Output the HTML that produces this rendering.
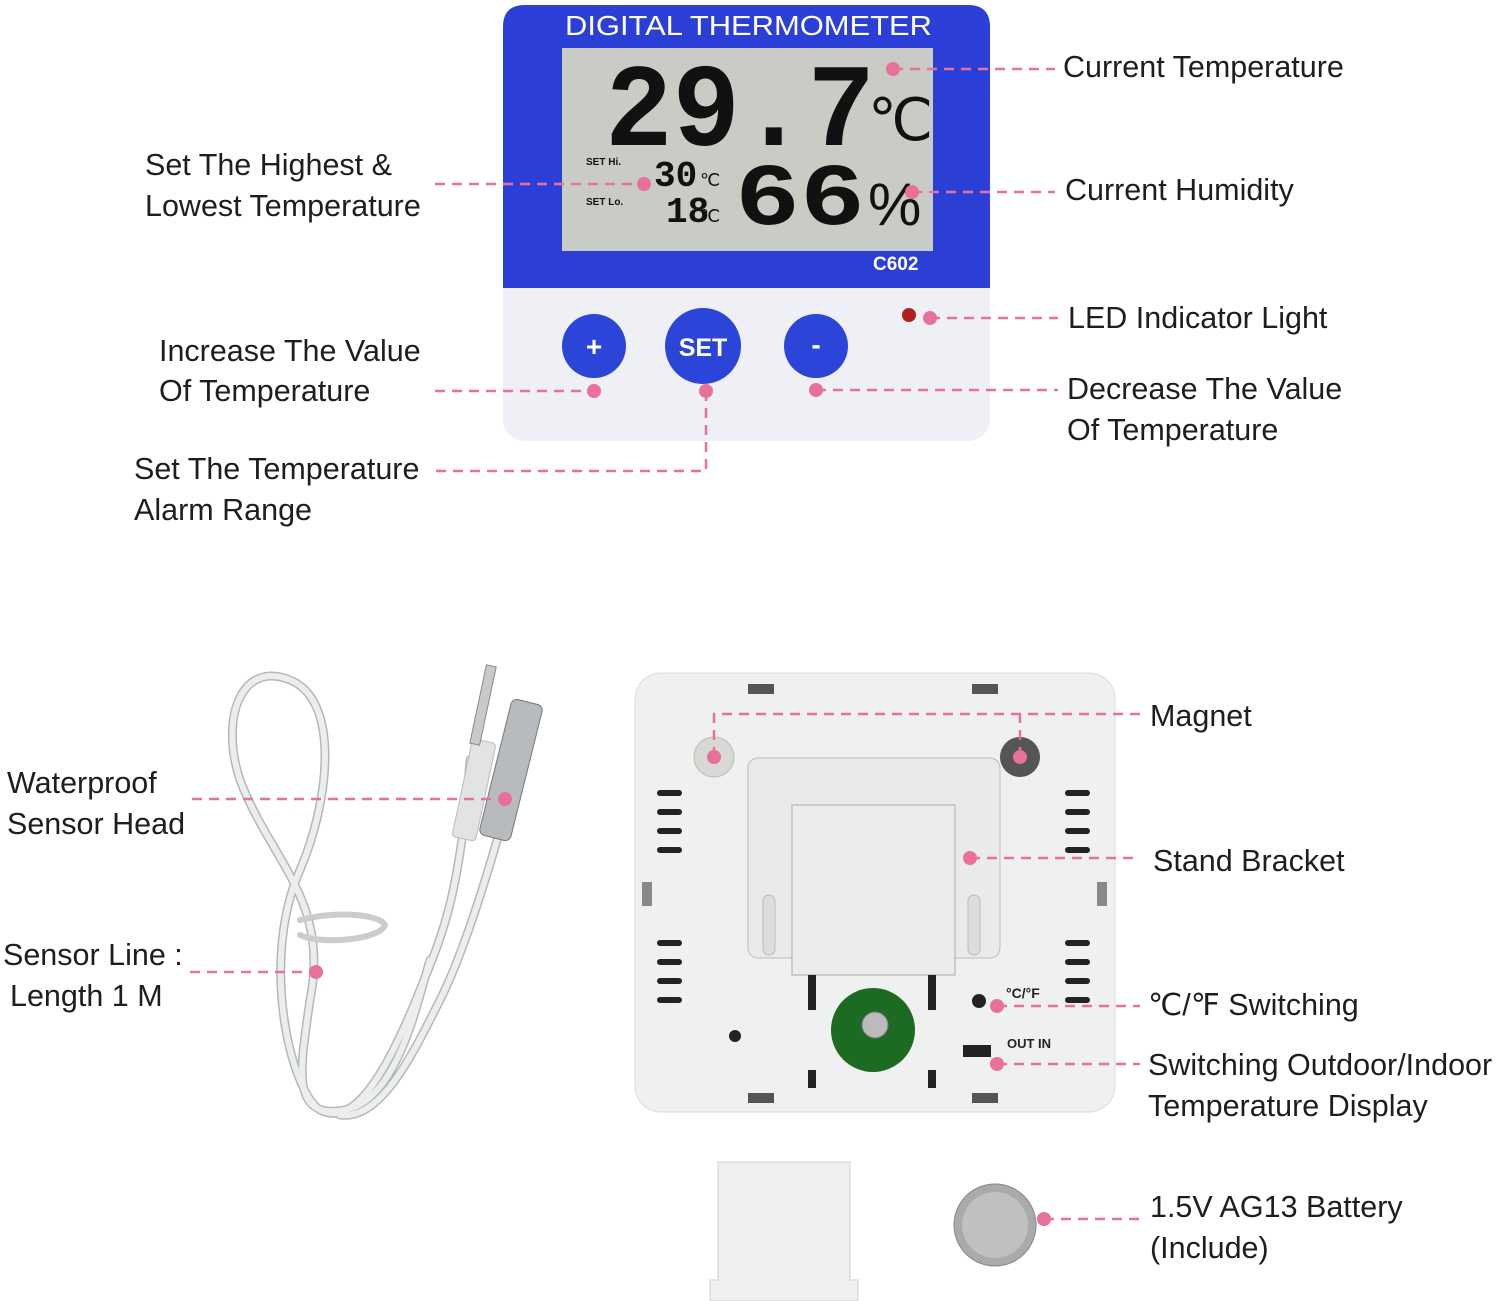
<!DOCTYPE html>
<html><head><meta charset="utf-8"><style>
html,body{margin:0;padding:0;background:#fff}
svg{display:block}
.l{font-family:"Liberation Sans",sans-serif;font-size:30.5px;fill:#1e1e1e}
.d{stroke:#e8709a;stroke-width:2.5;stroke-dasharray:10 7;fill:none}
.p{fill:#e8709a}
.v{fill:#222}
</style></head><body>
<svg width="1499" height="1301" viewBox="0 0 1499 1301" xmlns="http://www.w3.org/2000/svg">
<rect x="503" y="5" width="487" height="436" rx="22" fill="#eef0f6"/>
<path d="M525 5 H968 Q990 5 990 27 V288 H503 V27 Q503 5 525 5Z" fill="#2b3fd6"/>
<text x="565" y="35" font-family="Liberation Sans,sans-serif" font-size="28" fill="#fff" textLength="367" lengthAdjust="spacingAndGlyphs">DIGITAL  THERMOMETER</text>
<rect x="562" y="48" width="371" height="203" fill="#c8ccc4"/>
<text x="605" y="145" font-family="Liberation Mono,monospace" font-weight="bold" font-size="118" fill="#111" textLength="270" lengthAdjust="spacingAndGlyphs">29.7</text>
<text x="868" y="140" font-family="Liberation Sans,sans-serif" font-size="58" fill="#111">℃</text>
<text x="586" y="165" font-family="Liberation Sans,sans-serif" font-weight="bold" font-size="10" fill="#111">SET Hi.</text>
<text x="586" y="205" font-family="Liberation Sans,sans-serif" font-weight="bold" font-size="10" fill="#111">SET Lo.</text>
<text x="654" y="186" font-family="Liberation Mono,monospace" font-weight="bold" font-size="36" fill="#111">30</text>
<text x="700" y="186" font-family="Liberation Sans,sans-serif" font-size="18" fill="#111">℃</text>
<text x="666" y="222" font-family="Liberation Mono,monospace" font-weight="bold" font-size="36" fill="#111">18</text>
<text x="700" y="222" font-family="Liberation Sans,sans-serif" font-size="18" fill="#111">℃</text>
<text x="735" y="224" font-family="Liberation Mono,monospace" font-weight="bold" font-size="88" fill="#111" textLength="130" lengthAdjust="spacingAndGlyphs">66</text>
<text x="868" y="225" font-family="Liberation Sans,sans-serif" font-size="60" fill="#111">%</text>
<text x="873" y="270" font-family="Liberation Sans,sans-serif" font-weight="bold" font-size="19" fill="#fff">C602</text>
<circle cx="594" cy="346" r="32" fill="#2b45d8"/>
<text x="594" y="356" text-anchor="middle" font-family="Liberation Sans,sans-serif" font-weight="bold" font-size="28" fill="#fff">+</text>
<circle cx="703" cy="346" r="38" fill="#2b45d8"/>
<text x="703" y="356" text-anchor="middle" font-family="Liberation Sans,sans-serif" font-weight="bold" font-size="25" fill="#fff">SET</text>
<circle cx="816" cy="346" r="32" fill="#2b45d8"/>
<text x="816" y="354" text-anchor="middle" font-family="Liberation Sans,sans-serif" font-weight="bold" font-size="28" fill="#fff">-</text>
<circle cx="909" cy="315" r="7" fill="#b0201a"/>
<path class="d" d="M893 69 H1055"/><circle class="p" cx="893" cy="69" r="7"/>
<text class="l" x="1063" y="77">Current Temperature</text>
<path class="d" d="M912 192 H1055"/><circle class="p" cx="912" cy="192" r="7"/>
<text class="l" x="1065" y="200">Current Humidity</text>
<path class="d" d="M930 318 H1058"/><circle class="p" cx="930" cy="318" r="7"/>
<text class="l" x="1068" y="328">LED Indicator Light</text>
<path class="d" d="M816 390 H1058"/><circle class="p" cx="816" cy="390" r="7"/>
<text class="l" x="1067" y="399">Decrease The Value</text>
<text class="l" x="1067" y="440">Of Temperature</text>
<path class="d" d="M435 184 H644"/><circle class="p" cx="644" cy="184" r="7"/>
<text class="l" x="145" y="175">Set The Highest &amp;</text>
<text class="l" x="145" y="216">Lowest Temperature</text>
<path class="d" d="M435 391 H594"/><circle class="p" cx="594" cy="391" r="7"/>
<text class="l" x="159" y="361">Increase The Value</text>
<text class="l" x="159" y="401">Of Temperature</text>
<path class="d" d="M436 471 H706 V391"/><circle class="p" cx="706" cy="391" r="7"/>
<text class="l" x="134" y="479">Set The Temperature</text>
<text class="l" x="134" y="520">Alarm Range</text>
<!-- cable -->
<g fill="none" stroke-linecap="round">
<g stroke="#b5b8b8" stroke-width="9">
<path d="M470 760 C 460 900 440 940 420 990 C 380 1090 350 1125 320 1110 C 290 1090 260 960 300 870 C 330 800 340 700 290 680 C 240 660 220 720 240 780 C 270 860 330 900 310 1000 C 300 1070 290 1120 345 1110 C 400 1100 420 990 430 960"/>
<path d="M500 830 C 480 900 460 960 440 1000 C 410 1060 380 1120 340 1115"/>
</g>
<g stroke="#eceeee" stroke-width="6">
<path d="M470 760 C 460 900 440 940 420 990 C 380 1090 350 1125 320 1110 C 290 1090 260 960 300 870 C 330 800 340 700 290 680 C 240 660 220 720 240 780 C 270 860 330 900 310 1000 C 300 1070 290 1120 345 1110 C 400 1100 420 990 430 960"/>
<path d="M500 830 C 480 900 460 960 440 1000 C 410 1060 380 1120 340 1115"/>
</g>
<path d="M300 920 C 340 910 380 915 385 925 C 380 940 320 945 300 935" stroke="#ccc" stroke-width="6"/>
</g>
<rect x="462" y="740" width="24" height="100" rx="4" fill="#e2e4e4" stroke="#bbb" transform="rotate(12 474 790)"/>
<rect x="478" y="665" width="10" height="80" fill="#c9c9c9" stroke="#888" transform="rotate(12 483 705)"/>
<rect x="495" y="700" width="32" height="140" rx="6" fill="#b8bbbd" stroke="#777" transform="rotate(14 511 770)"/>
<path class="d" d="M192 799 H505"/><circle class="p" cx="505" cy="799" r="7"/>
<text class="l" x="7" y="793">Waterproof</text>
<text class="l" x="7" y="834">Sensor Head</text>
<path class="d" d="M190 972 H316"/><circle class="p" cx="316" cy="972" r="7"/>
<text class="l" x="3" y="965">Sensor Line :</text>
<text class="l" x="10" y="1006">Length 1 M</text>
<!-- back case -->
<rect x="635" y="673" width="480" height="439" rx="26" fill="#eff0f0" stroke="#dcdcdc"/>
<rect x="748" y="684" width="26" height="10" fill="#555"/><rect x="972" y="684" width="26" height="10" fill="#555"/>
<rect x="748" y="1093" width="26" height="10" fill="#555"/><rect x="972" y="1093" width="26" height="10" fill="#555"/>
<g class="v">
<rect x="657" y="790" width="25" height="6" rx="3"/><rect x="657" y="809" width="25" height="6" rx="3"/><rect x="657" y="828" width="25" height="6" rx="3"/><rect x="657" y="847" width="25" height="6" rx="3"/>
<rect x="657" y="940" width="25" height="6" rx="3"/><rect x="657" y="959" width="25" height="6" rx="3"/><rect x="657" y="978" width="25" height="6" rx="3"/><rect x="657" y="997" width="25" height="6" rx="3"/>
<rect x="1065" y="790" width="25" height="6" rx="3"/><rect x="1065" y="809" width="25" height="6" rx="3"/><rect x="1065" y="828" width="25" height="6" rx="3"/><rect x="1065" y="847" width="25" height="6" rx="3"/>
<rect x="1065" y="940" width="25" height="6" rx="3"/><rect x="1065" y="959" width="25" height="6" rx="3"/><rect x="1065" y="978" width="25" height="6" rx="3"/><rect x="1065" y="997" width="25" height="6" rx="3"/>
</g>
<rect x="642" y="882" width="10" height="24" fill="#888"/><rect x="1097" y="882" width="10" height="24" fill="#888"/>
<rect x="748" y="758" width="252" height="200" rx="10" fill="#e9eaea" stroke="#bbb"/>
<rect x="792" y="805" width="163" height="170" fill="#ececec" stroke="#aaa"/>
<rect x="763" y="895" width="12" height="60" rx="6" fill="#ddd" stroke="#bbb"/><rect x="968" y="895" width="12" height="60" rx="6" fill="#ddd" stroke="#bbb"/>
<circle cx="714" cy="757" r="20" fill="#d8d8d4" stroke="#bbb"/>
<circle cx="1020" cy="757" r="20" fill="#555"/>
<rect x="808" y="975" width="8" height="35" fill="#222"/><rect x="928" y="975" width="8" height="35" fill="#222"/>
<rect x="808" y="1070" width="8" height="18" fill="#222"/><rect x="928" y="1070" width="8" height="18" fill="#222"/>
<circle cx="873" cy="1030" r="42" fill="#1d6a23"/><circle cx="875" cy="1025" r="13" fill="#bbb" stroke="#777"/>
<circle cx="735" cy="1036" r="6" fill="#222"/>
<circle cx="979" cy="1001" r="7" fill="#222"/>
<rect x="963" y="1045" width="28" height="12" fill="#222"/>
<text x="1006" y="998" font-family="Liberation Sans,sans-serif" font-weight="bold" font-size="14" fill="#222">°C/°F</text>
<text x="1007" y="1048" font-family="Liberation Sans,sans-serif" font-weight="bold" font-size="13" fill="#222">OUT IN</text>
<path class="d" d="M714 757 V714 H1140 M1020 757 V714"/><circle class="p" cx="714" cy="757" r="7"/><circle class="p" cx="1020" cy="757" r="7"/>
<text class="l" x="1150" y="726">Magnet</text>
<path class="d" d="M970 858 H1135"/><circle class="p" cx="970" cy="858" r="7"/>
<text class="l" x="1153" y="871">Stand Bracket</text>
<path class="d" d="M997 1006 H1140"/><circle class="p" cx="997" cy="1006" r="7"/>
<text class="l" x="1148" y="1015">℃/℉ Switching</text>
<path class="d" d="M997 1064 H1140"/><circle class="p" cx="997" cy="1064" r="7"/>
<text class="l" x="1148" y="1075">Switching Outdoor/Indoor</text>
<text class="l" x="1148" y="1116">Temperature Display</text>
<path d="M718 1162 H850 V1280 H858 V1301 H710 V1280 H718Z" fill="#efefef" stroke="#d2d2d2"/>
<circle cx="995" cy="1225" r="41" fill="#a9aaab" stroke="#888"/>
<circle cx="995" cy="1225" r="33" fill="#bfc0c1"/>
<path class="d" d="M1044 1219 H1140"/><circle class="p" cx="1044" cy="1219" r="7"/>
<text class="l" x="1150" y="1217">1.5V AG13 Battery</text>
<text class="l" x="1150" y="1258">(Include)</text>
</svg>
</body></html>
